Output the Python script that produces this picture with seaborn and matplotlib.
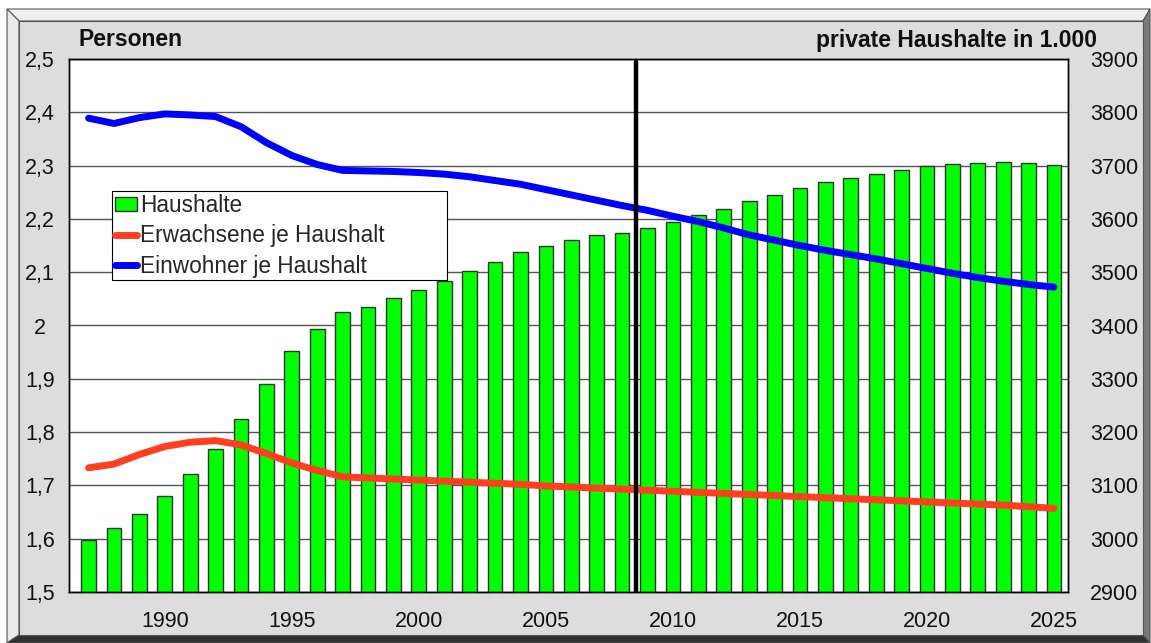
import numpy as np
import pandas as pd
import matplotlib
matplotlib.use("Agg")
import matplotlib.pyplot as plt
import seaborn as sns
from matplotlib.patches import Polygon, Patch
from matplotlib.lines import Line2D
from matplotlib.ticker import FuncFormatter

# ---- data ----
years = list(range(1987, 2026))

haushalte = [2998, 3020, 3047, 3081, 3121, 3168, 3224, 3291, 3353, 3393,
             3425, 3435, 3452, 3467, 3483, 3502, 3520, 3537, 3549, 3560,
             3570, 3574, 3582, 3594, 3607, 3618, 3633, 3645, 3658, 3669,
             3677, 3684, 3691, 3699, 3703, 3705, 3706, 3704, 3701]

einwohner_je_hh = [2.389, 2.379, 2.390, 2.397, 2.395, 2.392, 2.373, 2.343, 2.319, 2.302,
                   2.291, 2.290, 2.289, 2.287, 2.284, 2.279, 2.272, 2.265, 2.255, 2.245,
                   2.235, 2.225, 2.216, 2.205, 2.195, 2.183, 2.170, 2.160, 2.150, 2.141,
                   2.133, 2.125, 2.116, 2.107, 2.098, 2.090, 2.083, 2.077, 2.072]

erwachsene_je_hh = [1.733, 1.740, 1.758, 1.773, 1.781, 1.784, 1.776, 1.760, 1.742, 1.728,
                    1.716, 1.714, 1.712, 1.710, 1.708, 1.706, 1.704, 1.702, 1.699, 1.697,
                    1.695, 1.693, 1.691, 1.689, 1.687, 1.685, 1.683, 1.681, 1.679, 1.677,
                    1.675, 1.673, 1.671, 1.669, 1.667, 1.665, 1.663, 1.660, 1.657]

x_ticks = [1990, 1995, 2000, 2005, 2010, 2015, 2020, 2025]
left_ticks = [1.5, 1.6, 1.7, 1.8, 1.9, 2.0, 2.1, 2.2, 2.3, 2.4, 2.5]
right_ticks = list(range(2900, 4000, 100))
split_year = 2008.55

df = pd.DataFrame({"Jahr": years, "Haushalte": haushalte,
                   "Einwohner": einwohner_je_hh, "Erwachsene": erwachsene_je_hh})

sns.set_theme(style="white")
plt.rcParams["font.family"] = ["Liberation Sans", "DejaVu Sans"]

W, H = 1151, 643
fig = plt.figure(figsize=(W / 100, H / 100), dpi=100, facecolor="white")


def px(x, y):
    return (x / W, 1 - y / H)


# bevelled grey frame
def poly(pts, color):
    fig.patches.append(Polygon([px(*p) for p in pts], closed=True, transform=fig.transFigure,
                               facecolor=color, edgecolor="#555555", linewidth=0.8, zorder=-10))


poly([(7, 9), (1150, 9), (1143, 21), (19, 21)], "#efefef")
poly([(7, 9), (19, 21), (19, 635), (7, 643)], "#e9e9e9")
poly([(1150, 9), (1150, 643), (1143, 635), (1143, 21)], "#7a7a7a")
poly([(7, 643), (1150, 643), (1143, 635), (19, 635)], "#303030")
poly([(19, 21), (1143, 21), (1143, 635), (19, 635)], "#dddddd")

l, r, t, b = 69, 1068, 59, 592
ax = fig.add_axes([l / W, 1 - b / H, (r - l) / W, (b - t) / H])
ax.set_facecolor("white")

# bars on the right-hand scale
sns.barplot(data=df, x="Jahr", y="Haushalte", native_scale=True, ax=ax,
            color="#00ff00", saturation=1, edgecolor="#333333", linewidth=1, width=0.58)
ax.set_ylim(2900, 3900)
ax.set_xlim(1986.23, 2025.55)
ax.set_yticks(right_ticks)
ax.grid(axis="y", color="#555555", linewidth=1)
ax.set_axisbelow(True)
ax.set_xlabel("")
ax.set_ylabel("")
ax.set_xticks(x_ticks)

# lines on the left-hand scale
ax2 = ax.twinx()
sns.lineplot(data=df, x="Jahr", y="Erwachsene", ax=ax2, color="#ff3f1f", linewidth=5,
             solid_capstyle="round")
sns.lineplot(data=df, x="Jahr", y="Einwohner", ax=ax2, color="#0000ff", linewidth=5,
             solid_capstyle="round")
ax2.set_ylim(1.5, 2.5)
ax2.set_yticks(left_ticks)
ax2.set_xlabel("")
ax2.set_ylabel("")
ax2.axvline(split_year, ymin=0, ymax=0.995, color="black", linewidth=3.2, zorder=5)

# swap sides: Haushalte scale right, Personen scale left
ax.yaxis.set_ticks_position("right")
ax.yaxis.set_label_position("right")
ax2.yaxis.set_ticks_position("left")
ax2.yaxis.set_label_position("left")
ax.tick_params(axis="x", length=0, pad=14, labelsize=15.5, colors="#111111")
ax.tick_params(axis="y", which="both", length=0, pad=16, labelsize=15.5, colors="#111111",
               labelright=True, labelleft=False)
ax2.yaxis.set_major_formatter(FuncFormatter(
    lambda v, p: ("%.1f" % v).replace(".", ",").replace(",0", "")))
ax2.tick_params(axis="y", length=0, pad=21, labelsize=15.5, colors="#111111",
                labelleft=True, labelright=False)
for lab in ax2.get_yticklabels():
    lab.set_horizontalalignment("center")

for a in (ax, ax2):
    for s in a.spines.values():
        s.set_color("black")
        s.set_linewidth(1)

handles = [Patch(facecolor="#00ff00", edgecolor="#333333", linewidth=1),
           Line2D([], [], color="#ff3f1f", linewidth=5, solid_capstyle="round"),
           Line2D([], [], color="#0000ff", linewidth=5, solid_capstyle="round")]
labels = ["Haushalte", "Erwachsene je Haushalt", "Einwohner je Haushalt"]
x0, y0 = px(112, 280)
x1, y1 = px(447, 191)
leg = ax2.legend(handles, labels, loc="upper left", bbox_to_anchor=(x0, y0, x1 - x0, y1 - y0),
                 bbox_transform=fig.transFigure, mode="expand", borderaxespad=0, frameon=True,
                 fancybox=False, framealpha=1, edgecolor="black", fontsize=16.3,
                 handlelength=1.0, handleheight=0.6, handletextpad=0.12,
                 labelspacing=0.33, borderpad=0.12)
leg.get_frame().set_linewidth(0.8)
leg.set_zorder(10)

fig.text(*px(78, 40), "Personen", fontsize=16.5, fontweight="bold",
         ha="left", va="center", color="#111111")
fig.text(*px(1097, 40), "private Haushalte in 1.000", fontsize=16.5, fontweight="bold",
         ha="right", va="center", color="#111111")

fig.savefig("out.png", dpi=100, facecolor=fig.get_facecolor())
